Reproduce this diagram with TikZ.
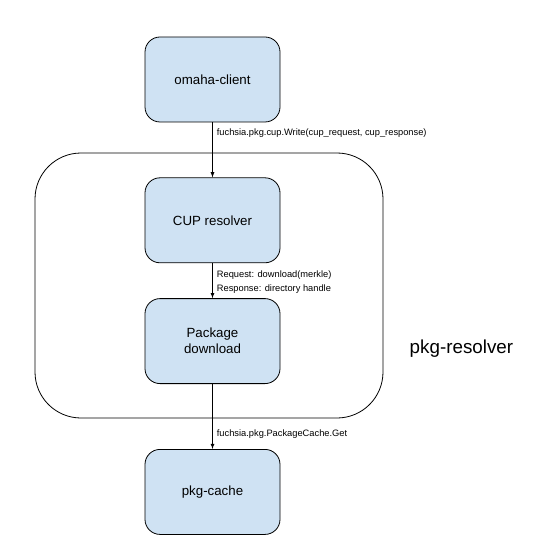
\documentclass[tikz,border=0pt]{standalone}
\usepackage{fontspec}
\setmainfont{Liberation Sans}
\usetikzlibrary{arrows,positioning,shapes,fit,calc}
\definecolor{boxblue}{HTML}{CFE2F3}

\begin{document}
\begin{tikzpicture}[x=1pt,y=-1pt,line width=0.8pt,>=latex]
\tikzset{comp/.style={draw,fill=boxblue,rounded corners=15pt,minimum width=135pt,minimum height=85pt,font=\fontsize{13.3}{16}\selectfont,align=center},
  lbl/.style={anchor=west,xshift=2pt,font=\fontsize{9.3}{14.5}\selectfont,align=left,inner sep=2pt}}
\useasboundingbox (0,0) rectangle (535,553);

\node[comp] (omaha) at (212.5,79.5) {omaha-client};
\node[comp,below=55pt of omaha] (cup) {CUP resolver};
\node[comp,below=35pt of cup] (download) {Package\\download};
\node[comp,below=65pt of download] (cache) {pkg-cache};

\coordinate (nw) at (35,153);
\coordinate (se) at (383,418);
\node[draw,rounded corners=46pt,inner sep=0pt,fit={(nw) (se)}] (resolver) {};
\node[font=\fontsize{18.8}{22}\selectfont,anchor=west] (resolverlbl) at (406,349) {pkg-resolver};

\draw[->] (omaha) -- node[lbl,pos=0.2] {fuchsia.pkg.cup.Write(cup\_request, cup\_response)} (cup);
\draw[->] (cup) -- node[lbl,pos=0.54] {Request: download(merkle)\\Response: directory handle} (download);
\draw[->] (download) -- node[lbl,pos=0.77] {fuchsia.pkg.PackageCache.Get} (cache);
\end{tikzpicture}
\end{document}
